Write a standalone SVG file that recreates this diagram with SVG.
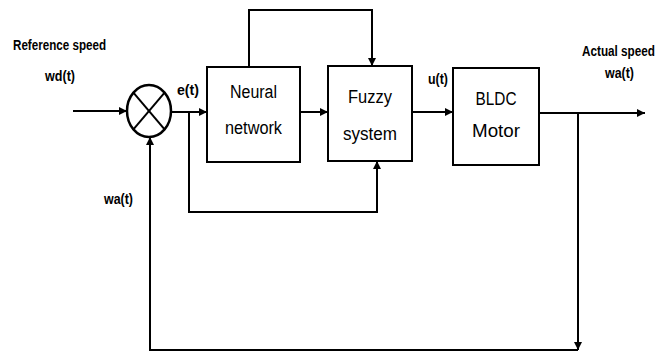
<svg xmlns="http://www.w3.org/2000/svg" width="668" height="352" viewBox="0 0 668 352">
<style>
.box{fill:#fff;stroke:#000;stroke-width:2}
.ln{fill:none;stroke:#000;stroke-width:2}
.lbl{font-family:"Liberation Sans",Arial,sans-serif;font-weight:bold;font-size:14px;fill:#000}
.bt{font-family:"Liberation Sans",Arial,sans-serif;font-size:18px;fill:#000;text-anchor:middle}
</style>
<defs>
<marker id="ah" markerWidth="8" markerHeight="8" refX="8" refY="4" orient="auto" markerUnits="userSpaceOnUse">
<path d="M0,0 L8,4 L0,8 Z" fill="#000"/>
</marker>
</defs>
<rect width="668" height="352" fill="#fff"/>
<g id="connectors">
<line class="ln" x1="73" y1="111" x2="127" y2="111" marker-end="url(#ah)"/>
<line class="ln" x1="171" y1="112" x2="207" y2="112" marker-end="url(#ah)"/>
<line class="ln" x1="300" y1="112" x2="328" y2="112" marker-end="url(#ah)"/>
<polyline class="ln" points="249,67 249,10 372,10 372,66" marker-end="url(#ah)" stroke="#444"/>
<polyline class="ln" points="189,112 189,212 377,212 377,161" marker-end="url(#ah)"/>
<line class="ln" x1="412" y1="112" x2="453" y2="112" marker-end="url(#ah)"/>
<line class="ln" x1="539" y1="113" x2="645" y2="113" marker-end="url(#ah)"/>
<line class="ln" x1="578" y1="113" x2="578" y2="350" marker-end="url(#ah)"/>
<polyline class="ln" points="578,350 150,350 150,137" marker-end="url(#ah)"/>
</g>
<g id="sum">
<ellipse cx="149" cy="111" rx="22" ry="26" fill="#fff" stroke="#000" stroke-width="2.5"/>
<line class="ln" x1="133.4" y1="92.6" x2="164.6" y2="129.4" stroke-width="2.5"/>
<line class="ln" x1="164.6" y1="92.6" x2="133.4" y2="129.4" stroke-width="2.5"/>
</g>
<g id="neural">
<rect class="box" x="207" y="67" width="93" height="95"/>
<text class="bt" x="253.5" y="98" textLength="47" lengthAdjust="spacingAndGlyphs">Neural</text>
<text class="bt" x="253.5" y="134" textLength="57" lengthAdjust="spacingAndGlyphs">network</text>
</g>
<g id="fuzzy">
<rect class="box" x="328" y="66" width="84" height="95"/>
<text class="bt" x="370" y="103" font-size="21" textLength="44" lengthAdjust="spacingAndGlyphs">Fuzzy</text>
<text class="bt" x="370" y="140" font-size="21" textLength="54" lengthAdjust="spacingAndGlyphs">system</text>
</g>
<g id="bldc">
<rect class="box" x="453" y="68" width="86" height="97"/>
<text class="bt" x="496" y="105" font-size="20" textLength="41" lengthAdjust="spacingAndGlyphs">BLDC</text>
<text class="bt" x="496" y="137" font-size="20" textLength="48" lengthAdjust="spacingAndGlyphs">Motor</text>
</g>
<g id="labels">
<text class="lbl" x="13" y="50" textLength="93" lengthAdjust="spacingAndGlyphs">Reference speed</text>
<text class="lbl" x="45" y="81" textLength="30" lengthAdjust="spacingAndGlyphs">wd(t)</text>
<text class="lbl" x="177" y="95" textLength="22" lengthAdjust="spacingAndGlyphs">e(t)</text>
<text class="lbl" x="428" y="84" textLength="20" lengthAdjust="spacingAndGlyphs">u(t)</text>
<text class="lbl" x="582" y="56" font-size="13" textLength="73" lengthAdjust="spacingAndGlyphs">Actual speed</text>
<text class="lbl" x="605" y="78" textLength="29" lengthAdjust="spacingAndGlyphs">wa(t)</text>
<text class="lbl" x="104" y="204" textLength="29" lengthAdjust="spacingAndGlyphs">wa(t)</text>
</g>
</svg>
